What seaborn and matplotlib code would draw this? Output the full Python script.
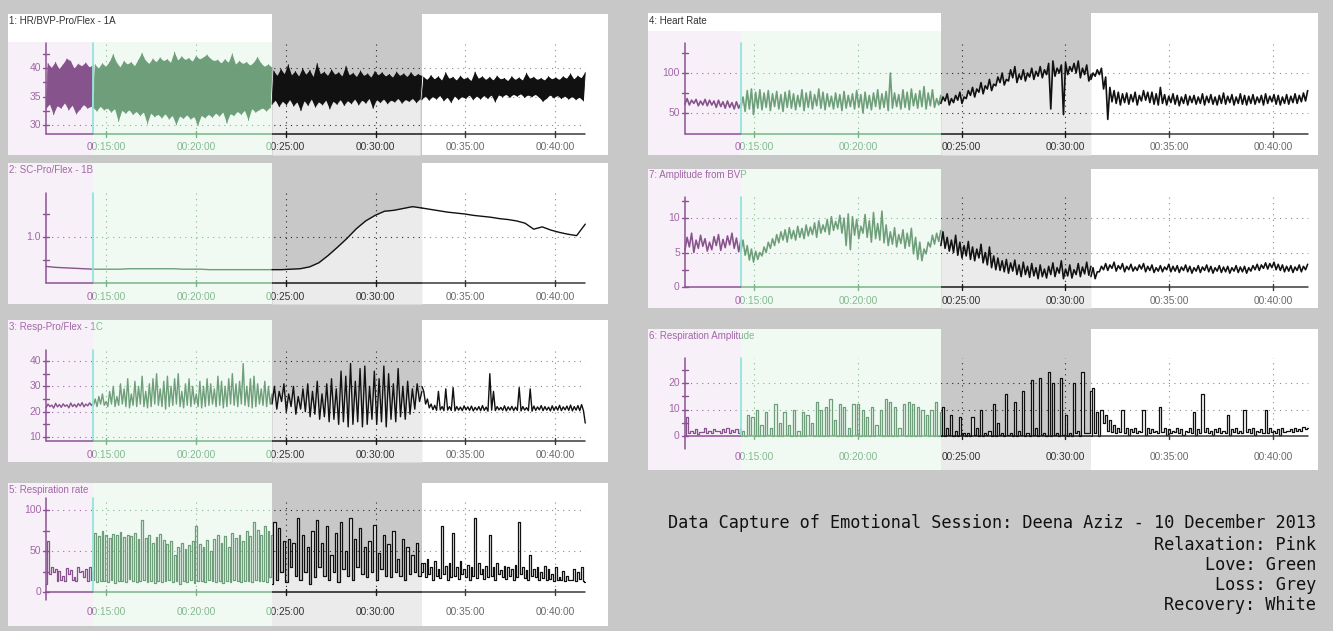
import numpy as np
import matplotlib
matplotlib.use("Agg")
import matplotlib.pyplot as plt
from matplotlib.transforms import Bbox, TransformedBbox, blended_transform_factory
import seaborn as sns

sns.set_theme(style="white")
plt.rcParams["font.family"] = ["Liberation Sans", "DejaVu Sans"]

W, H = 1333, 631
BG = "#c8c8c8"

# session timeline in minutes
t_start, t_end = 11.67, 41.67
x_ticks = [15, 20, 25, 30, 35, 40]
x_tick_labels = ["00:15:00", "00:20:00", "00:25:00", "00:30:00", "00:35:00", "00:40:00"]
left_bounds = [14.3, 24.24, 32.58]    # relaxation | love | loss | recovery
right_bounds = [14.37, 24.0, 31.23]

# every series: one list per phase (relaxation, love, loss, recovery)
# hi / lo = alternating peaks and troughs of the trace
bvp_hi = [
    [40.8, 40.0, 41.0, 39.8, 40.6, 41.6, 41.2, 39.9, 40.7, 40.3, 40.9, 40.1, 40.5],
    [40.6, 39.9, 40.8, 40.2, 41.0, 42.4, 40.9, 40.1, 41.2, 40.6, 41.0, 40.3, 41.4, 42.6, 41.3, 40.7, 41.6,
     41.0, 41.8, 41.2, 41.5, 40.9, 42.8, 41.3, 42.0, 41.4, 41.7, 41.1, 42.1, 41.5, 41.8, 42.3, 41.6, 41.2,
     41.4, 40.8, 41.5, 40.9, 42.5, 40.6, 41.2, 40.7, 41.0, 40.4, 40.9, 41.9, 40.8, 40.2, 40.6, 40.1],
    [39.5, 38.6, 39.8, 38.9, 40.6, 38.7, 39.4, 38.5, 39.9, 38.8, 39.6, 38.4, 40.8, 38.9, 39.3, 38.6, 39.7,
     38.8, 39.2, 38.5, 40.3, 38.7, 39.1, 38.4, 39.5, 38.6, 39.0, 38.3, 39.4, 38.7, 39.2, 38.5, 38.9, 38.3,
     39.3, 38.6, 39.0, 38.4, 39.2, 38.5, 38.9, 38.6],
    [38.4, 37.9, 38.7, 38.0, 38.5, 37.8, 39.2, 38.1, 38.4, 37.8, 38.6, 38.0, 38.3, 37.7, 39.3, 38.1, 38.5,
     37.9, 38.4, 37.8, 38.6, 38.0, 38.2, 37.7, 38.5, 37.9, 38.3, 37.8, 39.1, 38.1, 38.4, 37.9, 38.2, 37.8,
     38.5, 38.0, 38.3, 37.9, 38.5, 38.1, 39.0, 38.0, 38.6, 38.2, 39.2],
]
bvp_lo = [
    [32.8, 33.6, 31.8, 33.3, 32.9, 33.8, 32.6, 33.4, 31.9, 32.7, 33.5, 32.9, 33.2],
    [33.0, 32.4, 33.2, 32.6, 32.9, 32.2, 32.8, 30.6, 32.5, 32.0, 32.6, 31.8, 32.3, 31.6, 32.2, 30.2, 32.0,
     31.4, 31.8, 31.2, 31.9, 31.0, 31.6, 30.0, 31.5, 31.1, 31.7, 31.0, 31.4, 29.9, 31.6, 31.2, 31.8, 31.3,
     32.0, 31.5, 32.2, 30.3, 31.9, 31.6, 32.3, 31.8, 32.5, 30.8, 32.8, 32.2, 32.6, 32.9, 32.4, 33.0],
    [33.6, 34.3, 33.2, 34.1, 33.5, 34.4, 33.3, 34.0, 32.5, 34.2, 33.4, 34.5, 33.1, 34.0, 33.5, 34.3, 32.8,
     34.1, 33.6, 34.4, 33.4, 34.2, 33.7, 34.5, 33.5, 34.3, 33.8, 34.6, 32.9, 34.4, 33.9, 34.5, 33.7, 34.3,
     34.0, 34.6, 33.8, 34.4, 34.1, 34.6, 33.9, 34.5],
    [34.4, 35.0, 34.3, 34.9, 34.5, 35.1, 34.2, 34.8, 33.9, 35.0, 34.4, 34.9, 34.6, 35.2, 34.4, 35.0, 34.5,
     35.1, 34.6, 35.2, 34.0, 35.2, 34.9, 35.3, 34.8, 35.3, 35.0, 35.4, 34.8, 35.2, 34.9, 35.3, 34.8, 34.1,
     34.6, 35.2, 34.7, 35.1, 34.6, 35.0, 34.5, 34.9, 34.4, 34.8, 34.2],
]

sc = [
    [0.36, 0.34, 0.33, 0.32, 0.31, 0.30],
    [0.30, 0.30, 0.30, 0.30, 0.31, 0.31, 0.31, 0.31, 0.31, 0.31, 0.30, 0.30, 0.30, 0.29, 0.29, 0.29, 0.29,
     0.29, 0.29, 0.29, 0.29],
    [0.29, 0.29, 0.30, 0.31, 0.35, 0.44, 0.60, 0.78, 0.97, 1.18, 1.35, 1.47, 1.56, 1.58, 1.62, 1.66, 1.63],
    [1.63, 1.60, 1.57, 1.54, 1.52, 1.50, 1.47, 1.45, 1.43, 1.40, 1.38, 1.35, 1.30, 1.17, 1.22, 1.15, 1.10,
     1.06, 1.03, 1.28],
]

resp_hi = [
    [23.0, 22.6, 23.3, 22.8, 23.1, 22.7, 23.4, 22.9, 23.2, 23.6, 23.0, 23.5, 23.8],
    [25, 26, 27, 24, 28, 30, 26, 31, 29, 33, 27, 32, 30, 34, 28, 31, 33, 35, 29, 32, 34, 30, 33, 35, 28,
     31, 33, 30, 27, 32, 30, 33, 31, 29, 34, 32, 30, 33, 35, 31, 32, 39, 30, 33, 34, 31, 29, 32, 30, 27],
    [30, 28, 31, 27, 30, 26, 29, 31, 28, 32, 27, 31, 33, 29, 36, 34, 39, 32, 37, 38, 30, 36, 33, 38, 35,
     31, 37, 30, 32, 29, 31, 28],
    [28, 25, 23, 22.5, 28, 22, 29, 22, 29.5, 22, 21.8, 22.3, 21.9, 22.2, 21.7, 22.0, 22.4, 21.8, 35, 28,
     22.0, 21.7, 22.3, 21.9, 22.1, 21.8, 29.5, 22.0, 21.6, 29, 22.2, 21.9, 22.4, 22.0, 21.8, 22.3, 22.0,
     22.5, 21.9, 22.2, 22.6, 22.0, 22.4, 22.8, 15.5],
]
resp_lo = [
    [21.6, 22.0, 21.4, 21.9, 21.7, 22.1, 21.5, 22.0, 21.8, 22.2, 21.9, 22.3, 22.4],
    [22.5, 22, 23, 22.5, 22, 23, 22, 22.5, 23, 22, 21.5, 22.5, 22, 23, 22, 21.5, 22, 23, 22.5, 22, 21, 22,
     22.5, 23, 22, 21.5, 22.5, 22, 23, 22, 21.5, 22, 22.5, 23, 22, 22.5, 21.5, 22, 23, 22.5, 22, 23, 22.5,
     22, 21.5, 22, 23, 22.5, 22, 23],
    [23, 21, 24, 20, 22, 19, 21, 20, 18, 19, 17, 18, 16, 17, 15, 16, 14, 15, 16, 14, 15, 17, 15, 16, 14,
     17, 16, 18, 17, 19, 21, 24],
    [30, 23, 21.5, 20.8, 20.5, 20.7, 20.4, 20.6, 20.5, 20.3, 20.6, 20.4, 20.7, 20.5, 20.3, 20.6, 20.4,
     20.5, 20.2, 20.6, 20.4, 20.7, 20.5, 20.3, 20.6, 20.4, 20.5, 20.3, 20.6, 20.4, 20.2, 20.5, 20.7, 20.4,
     20.6, 20.3, 20.5, 20.6, 20.4, 20.7, 20.5, 20.3, 20.6, 20.4, 20.5],
]

rate_hi = [
    [62, 30, 28, 26, 20, 29, 27, 18, 30, 26, 28, 30, 24],
    [72, 68, 74, 70, 66, 71, 69, 73, 67, 70, 68, 72, 65, 88, 66, 70, 60, 67, 71, 64, 58, 62, 45, 55, 60,
     52, 57, 62, 80, 58, 55, 63, 50, 65, 70, 60, 68, 55, 72, 66, 70, 62, 74, 68, 85, 76, 70, 80, 75, 70],
    [85, 78, 62, 65, 60, 90, 70, 55, 75, 88, 60, 80, 45, 72, 85, 50, 90, 65, 78, 55, 62, 82, 48, 70, 58,
     75, 40, 65, 55, 45, 60, 35],
    [35, 40, 30, 38, 28, 80, 32, 35, 72, 30, 38, 28, 33, 30, 90, 35, 28, 32, 70, 30, 35, 27, 32, 30, 28,
     33, 85, 30, 27, 45, 28, 30, 25, 32, 28, 22, 30, 18, 26, 20, 15, 28, 24, 30, 12],
]
rate_lo = [
    [10, 22, 24, 14, 15, 13, 22, 15, 13, 24, 18, 14, 15],
    [15, 12, 14, 13, 12, 15, 11, 14, 13, 12, 16, 13, 12, 14, 15, 12, 13, 11, 14, 12, 13, 15, 12, 14, 10,
     13, 12, 15, 11, 13, 14, 12, 15, 13, 12, 14, 11, 13, 12, 15, 13, 12, 14, 13, 12, 15, 13, 14, 12, 18],
    [10, 15, 25, 12, 30, 20, 15, 25, 10, 18, 30, 20, 15, 25, 12, 28, 20, 15, 30, 22, 18, 25, 15, 28, 20,
     18, 25, 20, 15, 22, 25, 20],
    [25, 18, 22, 15, 20, 17, 22, 15, 18, 20, 16, 22, 18, 15, 20, 17, 22, 16, 18, 20, 15, 22, 18, 16, 20,
     15, 18, 22, 17, 15, 20, 18, 15, 17, 15, 16, 14, 15, 15, 14, 15, 15, 14, 16, 14],
]

hr_hi = [
    [68, 66, 67, 65, 67, 66, 65, 66, 64, 65, 63, 64, 62],
    [70, 78, 80, 76, 79, 75, 78, 74, 77, 73, 76, 78, 74, 72, 79, 75, 77, 73, 80, 76, 74, 71, 75, 73, 77,
     72, 74, 78, 73, 76, 72, 75, 79, 74, 77, 100, 75, 73, 79, 76, 80, 74, 78, 83, 75, 79, 68, 72],
    [70, 74, 68, 72, 76, 70, 78, 82, 80, 88, 84, 92, 86, 95, 100, 92, 104, 108, 98, 104, 100, 106, 102,
     108, 104, 112, 115, 106, 110, 113, 108, 112, 115, 106, 110, 98],
    [100, 104, 106, 95, 82, 78, 76, 74, 75, 73, 76, 72, 78, 76, 76, 74, 82, 73, 71, 74, 72, 70, 73, 71,
     72, 70, 74, 71, 73, 70, 72, 75, 71, 73, 70, 74, 72, 71, 73, 70, 72, 74, 71, 73, 72, 70, 73, 71, 74,
     72, 75, 78],
]
hr_lo = [
    [61, 60, 62, 59, 60, 59, 60, 57, 58, 56, 57, 55, 56],
    [57, 52, 55, 48, 56, 54, 57, 53, 58, 55, 52, 57, 56, 54, 58, 53, 57, 55, 59, 56, 54, 58, 55, 57, 53,
     56, 58, 55, 57, 50, 56, 54, 58, 55, 57, 53, 56, 58, 55, 57, 54, 59, 56, 58, 55, 59, 57, 60],
    [62, 65, 60, 63, 66, 62, 68, 72, 70, 76, 74, 80, 78, 84, 88, 85, 90, 94, 88, 92, 90, 95, 92, 96, 94,
     98, 55, 96, 100, 48, 98, 102, 100, 94, 98, 90],
    [92, 96, 98, 80, 42, 64, 62, 60, 63, 61, 64, 60, 65, 66, 63, 61, 60, 62, 60, 63, 61, 59, 62, 60, 63,
     61, 62, 60, 63, 61, 60, 62, 61, 63, 60, 62, 61, 60, 62, 61, 63, 60, 62, 64, 61, 60, 62, 61, 63, 62,
     64, 65],
]

abvp_hi = [
    [7.2, 7.8, 6.8, 7.5, 7.0, 6.5, 7.3, 7.6, 6.9, 7.4, 7.8, 7.1, 6.8],
    [6.8, 6.0, 5.5, 5.2, 5.0, 5.8, 6.5, 7.0, 7.6, 8.0, 8.3, 8.6, 8.2, 8.8, 8.5, 9.0, 8.7, 9.3, 9.6, 9.0,
     9.8, 10.2, 9.5, 10.4, 10.0, 10.6, 10.2, 9.8, 8.8, 10.5, 9.6, 10.8, 9.2, 11.0, 9.0, 8.0, 8.6, 7.6, 8.3,
     7.8, 8.5, 7.2, 6.5, 5.5, 6.5, 7.5, 7.8, 8.2],
    [8.0, 7.2, 6.8, 7.5, 6.5, 6.0, 6.6, 5.8, 5.5, 6.2, 5.0, 5.8, 4.5, 4.2, 3.8, 4.0, 3.5, 3.9, 3.2, 3.6,
     3.0, 3.4, 2.8, 3.2, 2.6, 3.0, 3.5, 2.8, 3.8, 2.6, 3.2, 2.5, 3.4, 2.9, 3.6, 3.0],
    [2.8, 2.2, 3.0, 3.4, 3.2, 3.6, 3.1, 3.4, 3.0, 3.3, 2.9, 3.2, 3.4, 3.0, 3.2, 2.8, 3.1, 2.9, 3.3, 3.0,
     3.1, 2.9, 3.2, 3.0, 2.8, 3.1, 2.9, 3.2, 3.0, 2.8, 3.1, 2.9, 3.0, 2.8, 3.1, 2.9, 3.0, 2.8, 3.1, 3.3,
     3.2, 3.5, 3.4, 3.6, 3.3, 3.2, 3.0, 3.1, 2.9, 3.2, 3.0, 3.3],
]
abvp_lo = [
    [5.3, 5.8, 5.0, 5.6, 5.9, 5.2, 5.4, 6.0, 5.3, 5.7, 6.1, 5.6, 5.1],
    [5.2, 4.6, 3.9, 3.6, 4.0, 4.5, 5.0, 5.6, 6.0, 6.4, 6.8, 6.5, 7.0, 6.8, 7.2, 7.0, 7.4, 7.6, 7.2, 7.8,
     8.0, 7.6, 8.2, 8.4, 7.8, 6.0, 5.4, 7.5, 7.0, 7.8, 7.2, 6.5, 7.0, 6.8, 6.4, 6.0, 6.2, 5.8, 6.3, 5.6,
     5.9, 4.8, 4.0, 3.8, 4.8, 5.8, 6.2, 6.6],
    [6.0, 5.6, 5.2, 5.0, 4.6, 4.2, 4.5, 4.0, 3.8, 4.2, 3.5, 3.2, 2.8, 2.5, 2.4, 2.2, 2.0, 2.3, 1.8, 1.5,
     1.8, 1.4, 1.6, 1.2, 1.5, 1.3, 1.8, 1.5, 2.0, 1.2, 1.6, 1.3, 1.8, 1.5, 1.9, 1.7],
    [1.5, 1.2, 2.2, 2.5, 2.4, 2.7, 2.3, 2.6, 2.2, 2.5, 2.3, 2.4, 2.6, 2.2, 2.4, 2.1, 2.3, 2.2, 2.5, 2.2,
     2.3, 2.1, 2.4, 2.2, 2.0, 2.3, 2.1, 2.4, 2.2, 2.0, 2.3, 2.1, 2.2, 2.0, 2.3, 2.1, 2.2, 2.0, 2.3, 2.5,
     2.4, 2.7, 2.6, 2.8, 2.5, 2.4, 2.2, 2.3, 2.1, 2.4, 2.2, 2.5],
]

ramp_hi = [
    [7, 2, 2.5, 1.5, 3, 2, 2.8, 1.8, 2.5, 3, 2.2, 2.8, 2.5],
    [2, 8, 7, 10, 4, 9, 3, 12, 5, 9, 4, 10, 2, 9, 8, 5, 13, 10, 11, 14, 6, 12, 11, 3, 12, 12, 10, 7, 11,
     4, 10, 14, 13, 11, 3, 12, 13, 12, 11, 10, 8, 10, 13, 9],
    [11, 3, 8, 2, 7, 1, 1, 7, 3, 10, 1, 2, 12, 5, 1, 16, 1, 13, 2, 17, 1, 21, 3, 22, 1, 24, 20, 1, 22, 8,
     1, 20, 2, 24, 1, 17],
    [18, 9, 10, 8, 6, 4, 3, 10, 3, 2.5, 3, 2, 10, 3, 2.5, 2, 11, 3, 2.5, 2, 3, 2.5, 2, 3, 9, 2.5, 16, 3,
     2, 2.5, 3, 2, 8, 2.5, 3, 2, 10, 2.5, 3, 2, 2.5, 10, 3, 2, 2.5, 3, 2, 2.5, 3, 2.5, 3.5, 3],
]
ramp_lo = [
    [0, 1, 1.2, 0.8, 1.5, 1, 1.3, 1.8, 1.2, 1.5, 1.0, 1.5, 1.2],
    [0, 0, 0.5, 0, 0, 0, 0.5, 0, 0, 0, 0.5, 0, 0, 0, 0, 0.5, 0, 0, 0, 0, 0.5, 0, 0, 0, 0, 0.5, 0, 0, 0,
     0, 0.5, 0, 0, 0, 0, 0.5, 0, 0, 0, 0, 0.5, 0, 0, 0],
    [0, 0, 0.5, 0, 0, 0.5, 0, 0, 0.5, 0, 0, 0.5, 0, 0, 0.5, 0, 0.5, 0, 0, 0.5, 0, 0, 0.5, 0, 0.5, 0, 0,
     0.5, 0, 0.5, 0, 0, 1, 0, 1, 1],
    [0, 1, 0, 5, 2, 1.5, 1, 1.5, 1, 0.5, 1.5, 1, 1.5, 0.5, 1, 1.5, 1, 1.5, 0.5, 1, 1.5, 1, 0.5, 1.5, 1,
     0.5, 1, 1.5, 1, 0.5, 1.5, 1, 1, 0.5, 1.5, 1, 1, 1.5, 1, 0.5, 1.5, 1, 1, 1.5, 1, 0.5, 1.5, 2, 1.5, 2,
     2, 2.5],
]

legend_lines = ["Data Capture of Emotional Session: Deena Aziz - 10 December 2013",
                "Relaxation: Pink", "Love: Green", "Loss: Grey", "Recovery: White"]

# colours per phase: relaxation, love, loss, recovery
phase_bg = ["#f8f0f8", "#f0faf3", BG, "#ffffff"]
sig_c = ["#87538d", "#6f9f7a", "#111111", "#111111"]
txt_c = ["#a067a6", "#84b991", "#333333", "#6a6a6a"]
axl_c = ["#8c5293", "#7ab487", "#1a1a1a", "#3a3a3a"]
grd_c = ["#a067a6", "#84b991", "#2a2a2a", "#8a8a8a"]
LIGHT = "#ebebeb"
CYAN = "#93e4dc"

cols = {
    "L": dict(x0=8, x1=608, xref=106, ppm=17.97, bounds=left_bounds),
    "R": dict(x0=648, x1=1318, xref=754, ppm=20.76, bounds=right_bounds),
}

panels = [
    dict(col="L", y0=14, y1=155, axis=134, ypx=125, yv=30, ppu=5.7, ytop=43, ybot=134,
         labels=[30, 35, 40], fmt="{:.0f}", minor=[32.5, 37.5, 42.5], grid=[30, 35, 40], lab=147,
         title="1: HR/BVP-Pro/Flex - 1A", ty=21, strip=42, mode="band", hi=bvp_hi, lo=bvp_lo, lw=0.6),
    dict(col="L", y0=163, y1=304, axis=283, ypx=283, yv=0, ppu=46, ytop=193, ybot=283,
         labels=[1.0], fmt="{:.1f}", minor=[0.5, 1.5], grid=[1.0], lab=296.5,
         title="2: SC-Pro/Flex - 1B", ty=170, strip=None, mode="line", vals=sc, lw=1.0),
    dict(col="L", y0=320, y1=462, axis=441, ypx=437, yv=10, ppu=2.533, ytop=350, ybot=441,
         labels=[10, 20, 30, 40], fmt="{:.0f}", minor=[15, 25, 35], grid=[10, 20, 30, 40], lab=455,
         title="3: Resp-Pro/Flex - 1C", ty=327, strip=None, mode="zig", hi=resp_hi, lo=resp_lo, lw=1.0),
    dict(col="L", y0=483, y1=626, axis=592, ypx=592, yv=0, ppu=0.82, ytop=498, ybot=600,
         labels=[0, 50, 100], fmt="{:.0f}", minor=[25, 75], grid=[50, 100], lab=612,
         title="5: Respiration rate", ty=490, strip=None, mode="step", hi=rate_hi, lo=rate_lo, lw=0.9),
    dict(col="R", y0=13, y1=155, axis=134, ypx=113, yv=50, ppu=0.8, ytop=43, ybot=134,
         labels=[50, 100], fmt="{:.0f}", minor=[75, 125], grid=[50, 100], lab=147,
         title="4: Heart Rate", ty=21, strip=31, mode="zig", hi=hr_hi, lo=hr_lo, lw=1.2),
    dict(col="R", y0=169, y1=308, axis=287, ypx=287, yv=0, ppu=6.9, ytop=197, ybot=287,
         labels=[0, 5, 10], fmt="{:.0f}", minor=[2.5, 12.5], grid=[5, 10], lab=301,
         title="7: Amplitude from BVP", ty=175, strip=None, mode="zig", hi=abvp_hi, lo=abvp_lo, lw=1.15),
    dict(col="R", y0=329, y1=470, axis=436, ypx=436, yv=0, ppu=2.65, ytop=358, ybot=449,
         labels=[0, 10, 20], fmt="{:.0f}", minor=[5, 15, 25], grid=[10, 20], lab=457,
         title="6: Respiration Amplitude", ty=336, strip=None, mode="step", hi=ramp_hi, lo=ramp_lo, lw=0.9),
]


def yv(P, py):
    return P["yv"] + (P["ypx"] - py) / P["ppu"]


def tx(C, px):
    return 15 + (px - C["xref"]) / C["ppm"]


def clip_to(ax, arts, a, b):
    box = TransformedBbox(Bbox([[a, 0], [b, 1]]),
                          blended_transform_factory(ax.transData, ax.transAxes))
    for art in arts:
        art.set_clip_on(True)
        art.set_clip_path(None)
        art.set_clip_box(box)


fig = plt.figure(figsize=(W / 100, H / 100), dpi=100, facecolor=BG)

for P in panels:
    C = cols[P["col"]]
    ax = fig.add_axes([C["x0"] / W, 1 - P["y1"] / H, (C["x1"] - C["x0"]) / W, (P["y1"] - P["y0"]) / H])
    ax.set_axis_off()
    xl0, xl1 = tx(C, C["x0"]), tx(C, C["x1"])
    ylo, yhi = yv(P, P["y1"]), yv(P, P["y0"])
    regions = [xl0] + C["bounds"] + [xl1]
    phases = [t_start] + C["bounds"] + [t_end]

    # backgrounds
    ax.axvspan(xl0, xl1, color="white", lw=0, zorder=0)
    frac = (P["y1"] - P["strip"]) / (P["y1"] - P["y0"]) if P["strip"] else 1
    for k in range(4):
        ax.axvspan(regions[k], regions[k + 1], ymin=0, ymax=frac if k < 2 else 1,
                   color=phase_bg[k], lw=0, zorder=0.1)

    # signal traces
    for k in range(4):
        if P["mode"] == "line":
            y = np.asarray(P["vals"][k], float)
        else:
            n = min(len(P["hi"][k]), len(P["lo"][k]))
            y = np.column_stack([P["lo"][k][:n], P["hi"][k][:n]]).ravel().astype(float)
        t = np.linspace(phases[k], phases[k + 1], len(y))
        step = P["mode"] == "step"
        if k == 2:
            if P["mode"] == "band":
                ax.fill_between(t[0::2], y[0::2], ylo, color=LIGHT, lw=0, zorder=0.5)
            else:
                ax.fill_between(t, y, ylo, color=LIGHT, lw=0, zorder=0.5, step="mid" if step else None)
        if P["mode"] == "band":
            ax.fill(np.r_[t[1::2], t[0::2][::-1]], np.r_[y[1::2], y[0::2][::-1]],
                    color=sig_c[k], lw=0, zorder=3)
        sns.lineplot(x=t, y=y, ax=ax, color=sig_c[k], linewidth=P["lw"], sort=False,
                     estimator=None, drawstyle="steps-mid" if step else "default",
                     legend=False, zorder=3)

    ya, ytop, ybot = yv(P, P["axis"]), yv(P, P["ytop"]), yv(P, P["ybot"])
    ppm, ppu = C["ppm"], P["ppu"]
    dots = (0, (1, 4))

    # cyan marker where the love phase starts
    ax.plot([C["bounds"][0]] * 2, [ya, ytop], color=CYAN, lw=1.3, zorder=3.5)

    # axes, grid and labels, tinted by the phase they sit in
    for k in range(4):
        arts = []
        for m in x_ticks:
            arts += ax.plot([m, m], [ya, ytop], color=grd_c[k], lw=0.8, ls=dots, zorder=2)
        for g in P["grid"]:
            arts += ax.plot([t_start, t_end], [g, g], color=grd_c[k], lw=0.8, ls=dots, zorder=2)
        arts += ax.plot([t_start, t_end], [ya, ya], color=axl_c[k], lw=1.1, zorder=4)
        arts += ax.plot([t_start, t_start], [ybot, ytop], color=axl_c[k], lw=1.1, zorder=4)
        for m in x_ticks:
            arts += ax.plot([m, m], [ya - 3 / ppu, ya + 3 / ppu], color=axl_c[k], lw=1.0, zorder=4)
        for v in P["labels"] + P["minor"]:
            arts += ax.plot([t_start - 3 / ppm, t_start + 3 / ppm], [v, v], color=axl_c[k], lw=1.0, zorder=4)
        for m, s in zip(x_ticks, x_tick_labels):
            arts.append(ax.text(m, yv(P, P["lab"]), s, ha="center", va="center",
                                fontsize=7.3, color=txt_c[k], zorder=5))
        for v in P["labels"]:
            arts.append(ax.text(t_start - 5 / ppm, v, P["fmt"].format(v), ha="right", va="center",
                                fontsize=7.5, color=txt_c[k], zorder=5))
        if not P["strip"]:
            arts.append(ax.text(tx(C, C["x0"] + 1), yv(P, P["ty"]), P["title"], ha="left",
                                va="center", fontsize=7.0, color=txt_c[k], zorder=5))
        clip_to(ax, arts, regions[k], regions[k + 1])
    if P["strip"]:
        ax.text(tx(C, C["x0"] + 1), yv(P, P["ty"]), P["title"], ha="left", va="center",
                fontsize=7.0, color="#333333", zorder=5)

    ax.set_xlim(xl0, xl1)
    ax.set_ylim(ylo, yhi)

legend_y = [523, 545, 565, 585, 605]
for s, py in zip(legend_lines, legend_y):
    fig.text(1316 / W, 1 - py / H, s, ha="right", va="center", fontsize=12.2,
             family="DejaVu Sans Mono", color="#111111")

fig.savefig("out.png", dpi=100, facecolor=BG)
